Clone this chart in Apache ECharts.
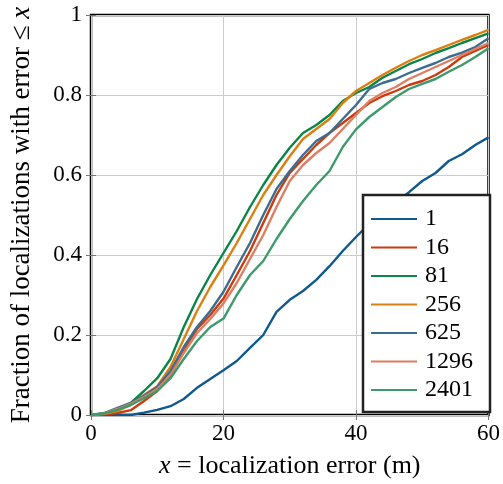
<!DOCTYPE html>
<html><head><meta charset="utf-8">
<script src="https://cdn.jsdelivr.net/npm/echarts@6/dist/echarts.min.js"></script>
<style>html,body{margin:0;padding:0;background:#fff}#c{width:503px;height:484px}</style>
</head><body><div id="c"></div>
<script>
const xs = [0, 2, 4, 6, 8, 10, 12, 14, 16, 18, 20, 22, 24, 26, 28, 30, 32, 34, 36, 38, 40, 42, 44, 46, 48, 50, 52, 54, 56, 58, 60];
const names = ['1', '16', '81', '256', '625', '1296', '2401'];
const s1    = [0, 0, 0, 0, 0.006, 0.013, 0.022, 0.04, 0.068, 0.09, 0.112, 0.135, 0.168, 0.2, 0.258, 0.288, 0.31, 0.338, 0.372, 0.41, 0.445, 0.478, 0.51, 0.53, 0.557, 0.585, 0.605, 0.635, 0.652, 0.675, 0.694];
const s16   = [0, 0.002, 0.005, 0.012, 0.035, 0.06, 0.1, 0.16, 0.215, 0.25, 0.291, 0.35, 0.41, 0.48, 0.55, 0.605, 0.64, 0.675, 0.705, 0.73, 0.755, 0.78, 0.797, 0.81, 0.825, 0.835, 0.85, 0.87, 0.895, 0.91, 0.925];
const s81   = [0, 0.004, 0.014, 0.03, 0.06, 0.092, 0.14, 0.22, 0.29, 0.35, 0.405, 0.46, 0.52, 0.575, 0.625, 0.668, 0.705, 0.725, 0.75, 0.785, 0.805, 0.82, 0.843, 0.86, 0.877, 0.89, 0.905, 0.917, 0.93, 0.942, 0.954];
const s256  = [0, 0.003, 0.01, 0.025, 0.05, 0.072, 0.12, 0.19, 0.26, 0.32, 0.374, 0.43, 0.49, 0.55, 0.6, 0.647, 0.69, 0.715, 0.74, 0.78, 0.81, 0.83, 0.85, 0.868, 0.885, 0.9, 0.912, 0.925, 0.938, 0.95, 0.963];
const s625  = [0, 0.005, 0.018, 0.03, 0.048, 0.07, 0.11, 0.17, 0.22, 0.26, 0.308, 0.37, 0.43, 0.5, 0.565, 0.61, 0.65, 0.685, 0.705, 0.74, 0.775, 0.815, 0.83, 0.84, 0.855, 0.868, 0.88, 0.895, 0.906, 0.92, 0.942];
const s1296 = [0, 0.004, 0.015, 0.028, 0.045, 0.065, 0.1, 0.155, 0.205, 0.24, 0.279, 0.33, 0.39, 0.45, 0.52, 0.585, 0.625, 0.655, 0.68, 0.715, 0.75, 0.785, 0.805, 0.82, 0.84, 0.855, 0.87, 0.885, 0.9, 0.915, 0.93];
const s2401 = [0, 0.004, 0.013, 0.025, 0.042, 0.06, 0.092, 0.14, 0.185, 0.22, 0.241, 0.3, 0.35, 0.385, 0.44, 0.49, 0.535, 0.575, 0.61, 0.67, 0.714, 0.745, 0.77, 0.795, 0.815, 0.828, 0.84, 0.858, 0.875, 0.895, 0.917];
const allSeries = [s1, s16, s81, s256, s625, s1296, s2401];
const colors = ['#0f5a8c', '#cc3a10', '#0a8549', '#dc7f11', '#3d6d8e', '#dd7f62', '#3d9a6b'];
const xTicks = [0, 20, 40, 60];
const yTicks = [0, 0.2, 0.4, 0.6, 0.8, 1];

const FONT = 'Liberation Serif';
const tickOnly = {show: true, inside: true, length: 5, lineStyle: {color: '#777'}};
const chart = echarts.init(document.getElementById('c'), null, {renderer: 'canvas'});
chart.setOption({
  animation: false,
  color: colors,
  grid: {left: 90, right: 11, top: 15, bottom: 67, show: true, borderColor: '#000', borderWidth: 2.5, backgroundColor: 'transparent'},
  xAxis: [{
    type: 'value', min: 0, max: 60, interval: 20,
    name: '{i|x} = localization error (m)', nameLocation: 'middle', nameGap: 38,
    nameTextStyle: {fontFamily: FONT, fontSize: 26, color: '#000', rich: {i: {fontFamily: FONT, fontStyle: 'italic', fontSize: 26}}},
    axisLine: {show: false},
    axisTick: tickOnly,
    splitLine: {show: true, lineStyle: {color: '#cccccc', width: 1}},
    axisLabel: {fontFamily: FONT, fontSize: 23, color: '#000', margin: 7, formatter: v => xTicks.includes(v) ? String(v) : ''}
  }, {
    type: 'value', min: 0, max: 60, interval: 20, position: 'top',
    axisLine: {show: false}, axisTick: tickOnly, splitLine: {show: false}, axisLabel: {show: false}
  }],
  yAxis: [{
    type: 'value', min: 0, max: 1, interval: 0.2,
    name: 'Fraction of localizations with error ≤ {i|x}', nameLocation: 'middle', nameGap: 56, nameRotate: 90,
    nameTextStyle: {fontFamily: FONT, fontSize: 27, color: '#000', rich: {i: {fontFamily: FONT, fontStyle: 'italic', fontSize: 27}}},
    axisLine: {show: false},
    axisTick: tickOnly,
    splitLine: {show: true, lineStyle: {color: '#cccccc', width: 1}},
    axisLabel: {fontFamily: FONT, fontSize: 23, color: '#000', margin: 9, formatter: v => { const t = yTicks.find(k => Math.abs(k - v) < 1e-9); return t === undefined ? '' : String(t); }}
  }, {
    type: 'value', min: 0, max: 1, interval: 0.2, position: 'right',
    axisLine: {show: false}, axisTick: tickOnly, splitLine: {show: false}, axisLabel: {show: false}
  }],
  legend: {
    orient: 'vertical', left: 363, top: 195,
    backgroundColor: '#fff', borderColor: '#222', borderWidth: 2.5,
    padding: [12, 17, 10, 8],
    itemWidth: 46, itemHeight: 14, itemGap: 4.5,
    icon: 'path://M0,6 L46,6 L46,8 L0,8 Z',
    textStyle: {fontFamily: FONT, fontSize: 24, color: '#000', padding: [0, 0, 0, 3]},
    data: names
  },
  series: names.map((n, i) => ({
    name: n, type: 'line', showSymbol: false, symbol: 'none',
    data: xs.map((x, j) => [x, allSeries[i][j]]),
    lineStyle: {width: 2.4, color: colors[i]},
    itemStyle: {color: colors[i]}
  }))
});
</script></body></html>
